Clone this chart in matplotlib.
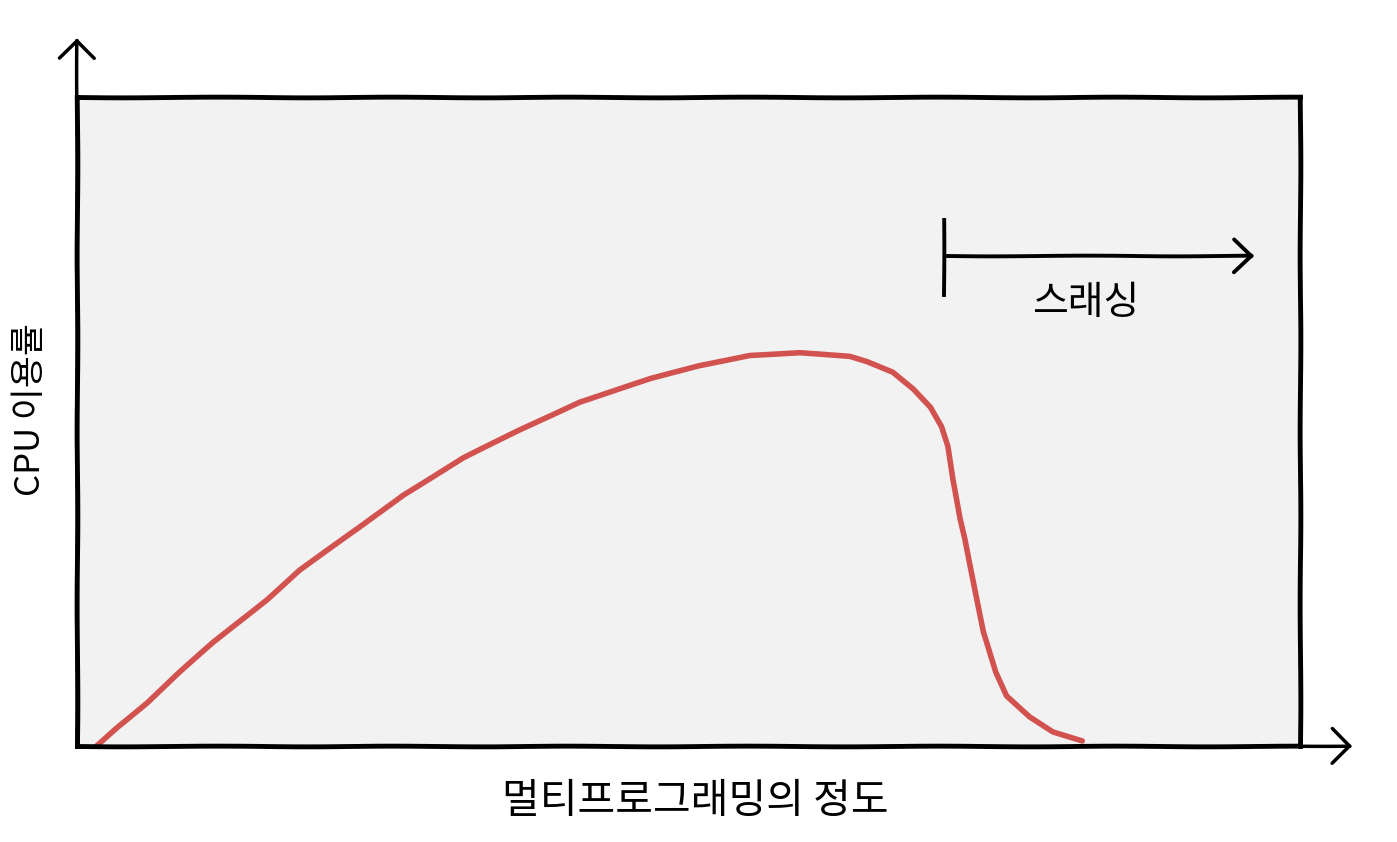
import numpy as np
import matplotlib
matplotlib.use('agg')
import matplotlib.pyplot as plt

# curve (x: degree of multiprogramming, y: cpu usage, axes fraction)
degree = [0.016, 0.033, 0.057, 0.084, 0.111, 0.155, 0.182, 0.231, 0.267, 0.316,
          0.362, 0.411, 0.469, 0.509, 0.550, 0.591, 0.632, 0.646, 0.667, 0.684,
          0.698, 0.707, 0.712, 0.716, 0.722, 0.726, 0.733, 0.741, 0.751, 0.760,
          0.779, 0.798, 0.822]
cpu_usage = [0.0, 0.029, 0.066, 0.114, 0.159, 0.225, 0.271, 0.337, 0.387, 0.444,
             0.487, 0.530, 0.566, 0.586, 0.602, 0.606, 0.600, 0.592, 0.576, 0.550,
             0.522, 0.492, 0.462, 0.411, 0.350, 0.319, 0.253, 0.176, 0.114, 0.077,
             0.045, 0.022, 0.008]

thrashing_start = 0.709
thrashing_end = 0.965

xlabel = '멀티프로그래밍의 정도'
ylabel = 'CPU 이용률'
thrashing_label = '스래싱'

plt.xkcd(scale=0.35, length=200, randomness=2)
plt.rcParams['font.family'] = ['Noto Sans CJK KR', 'DejaVu Sans']
plt.rcParams['path.effects'] = []

fig = plt.figure(figsize=(13.97, 8.42), dpi=100)
ax = fig.add_axes([0.0551, 0.114, 0.8755, 0.7708])
ax.set_facecolor('#f2f2f2')
for s in ax.spines.values():
    s.set_linewidth(3.5)
    s.set_color('black')

line, = ax.plot(degree, cpu_usage, color='#d1524f', lw=4.0,
                solid_capstyle='round', solid_joinstyle='round')
line.set_sketch_params(scale=0.2, length=200, randomness=2)

# axis arrows
head = '->,head_length=0.9,head_width=0.9'
ax.annotate('', xy=(0, 1.095), xytext=(0, 0), xycoords='axes fraction',
            arrowprops=dict(arrowstyle=head, lw=2.5, color='black'),
            annotation_clip=False)
ax.annotate('', xy=(1.045, 0), xytext=(0.98, 0), xycoords='axes fraction',
            arrowprops=dict(arrowstyle=head, lw=2.5, color='black'),
            annotation_clip=False)

# thrashing marker
ax.plot([thrashing_start, thrashing_start], [0.695, 0.81], color='black', lw=2.8)
ax.annotate('', xy=(thrashing_end, 0.755), xytext=(thrashing_start, 0.755),
            arrowprops=dict(arrowstyle='->,head_length=0.9,head_width=0.85', lw=2.8, color='black'))
ax.text((thrashing_start + thrashing_end) / 2 - 0.012, 0.683, thrashing_label,
        fontsize=28, ha='center', va='center')

ax.set_xlim(0, 1)
ax.set_ylim(0, 1)
ax.set_xticks([])
ax.set_yticks([])

fig.text(0.4975, 0.048, xlabel, fontsize=29.5, ha='center', va='center')
fig.text(0.022, 0.513, ylabel, fontsize=25, ha='center', va='center', rotation=90)

fig.savefig('out.png', dpi=100, facecolor='white')
